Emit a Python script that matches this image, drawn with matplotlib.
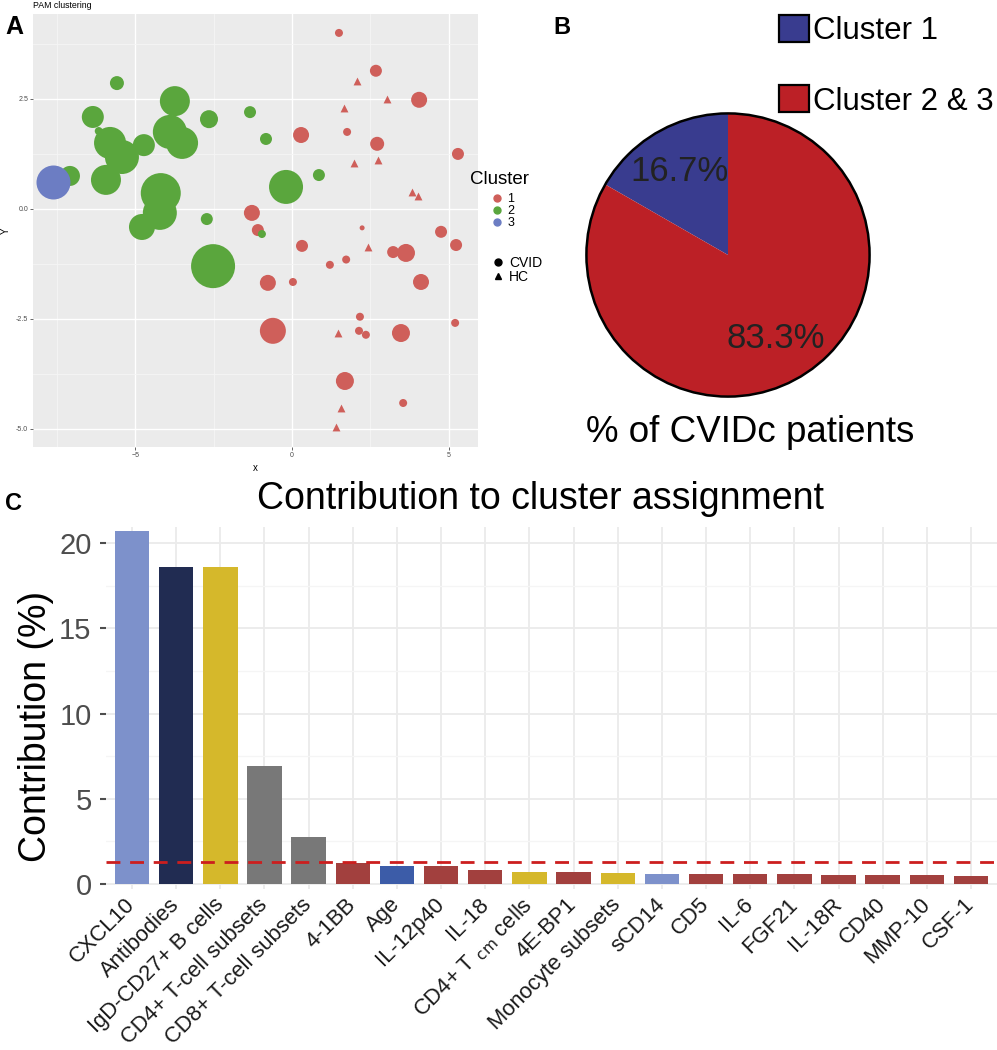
import numpy as np
import matplotlib.pyplot as plt
from matplotlib.lines import Line2D
from matplotlib.patches import Patch, Circle

plt.rcParams['font.family'] = ['Liberation Sans', 'DejaVu Sans']

# ---- panel A: PAM clustering (x, y, bubble size) ----
c1_x = [1.50, 2.68, 4.06, 0.29, 1.76, 2.72, 5.30, -1.28, -1.09, 0.32, 2.24, 4.76, 5.24, 3.23,
        3.64, 1.73, 1.21, -0.77, 0.03, 4.12, -0.61, 2.17, 2.14, 2.36, 3.48, 5.21, 1.69, 3.55]
c1_y = [4.00, 3.14, 2.48, 1.68, 1.75, 1.48, 1.25, -0.09, -0.48, -0.84, -0.43, -0.52, -0.82, -0.98,
        -1.00, -1.15, -1.27, -1.68, -1.66, -1.66, -2.77, -2.45, -2.77, -2.86, -2.82, -2.59, -3.91, -4.41]
c1_size = [4, 6, 8, 8, 4, 7, 6, 8, 6, 6, 2.5, 6, 6, 6, 9, 4, 4, 8, 4, 8, 13, 4, 4, 4, 9, 4, 9, 4]

hc_x = [2.08, 3.03, 1.66, 1.98, 2.75, 3.83, 4.03, 2.43, 1.47, 1.57, 1.41]
hc_y = [2.91, 2.50, 2.30, 1.04, 1.11, 0.39, 0.30, -0.86, -2.82, -4.52, -4.95]

c2_x = [-5.59, -3.74, -6.36, -2.65, -1.34, -6.17, -5.81, -5.43, -4.73, -3.90, -3.51, -0.83,
        -7.09, -5.94, -4.19, -4.22, -4.79, -0.19, 0.86, -2.72, -0.96, -2.52]
c2_y = [2.86, 2.45, 2.09, 2.04, 2.20, 1.77, 1.50, 1.18, 1.45, 1.75, 1.50, 1.59,
        0.75, 0.66, 0.36, -0.09, -0.41, 0.50, 0.77, -0.23, -0.57, -1.30]
c2_size = [7, 15, 11, 9, 6, 4, 16, 17, 11, 17, 16, 6, 10, 15, 20, 17, 13, 17, 6, 6, 4, 22]

c3_x = [-7.64]
c3_y = [0.61]
c3_size = [17]

# ---- panel B ----
pie_labels = ["Cluster 1", "Cluster 2 & 3"]
pie_values = [16.7, 83.3]

# ---- panel C ----
features = ["CXCL10", "Antibodies", "IgD-CD27+ B cells", "CD4+ T-cell subsets",
            "CD8+ T-cell subsets", "4-1BB", "Age", "IL-12p40", "IL-18",
            "CD4+ T $_{\\rm cm}$ cells", "4E-BP1", "Monocyte subsets", "sCD14", "CD5",
            "IL-6", "FGF21", "IL-18R", "CD40", "MMP-10", "CSF-1"]
contribution = [20.7, 18.6, 18.6, 6.9, 2.75, 1.25, 1.05, 1.05, 0.8, 0.72, 0.72, 0.62,
                0.6, 0.6, 0.58, 0.57, 0.55, 0.55, 0.52, 0.45]
feature_group = ["light", "navy", "gold", "grey", "grey", "red", "blue", "red", "red",
                 "gold", "red", "gold", "light", "red", "red", "red", "red", "red", "red", "red"]
cutoff = 1.27

group_colors = {"light": "#7D91CB", "navy": "#212C52", "gold": "#D5B82B",
                "grey": "#787878", "red": "#A2403E", "blue": "#3C5CA8"}

W, H = 997, 1050
fig = plt.figure(figsize=(W / 100, H / 100), dpi=100)


def box(l, t, r, b):
    return [l / W, 1 - b / H, (r - l) / W, (b - t) / H]


def px2s(r):
    return (2 * r * 0.72) ** 2


# ---------- A ----------
red, green, blue = "#CF5F5A", "#5AA63D", "#6C7DC3"
ax = fig.add_axes(box(33, 14, 478, 447))
ax.set_facecolor("#EBEBEB")
ax.scatter(c1_x, c1_y, s=[px2s(v) for v in c1_size], color=red, lw=0, zorder=3)
ax.scatter(hc_x, hc_y, s=32, marker="^", color=red, lw=0, zorder=3)
ax.scatter(c2_x, c2_y, s=[px2s(v) for v in c2_size], color=green, lw=0, zorder=3)
ax.scatter(c3_x, c3_y, s=[px2s(v) for v in c3_size], color=blue, lw=0, zorder=3)
ax.set_xlim(-8.27, 5.94)
ax.set_ylim(-5.41, 4.43)
ax.set_xticks([-5, 0, 5])
ax.set_yticks([-5, -2.5, 0, 2.5])
ax.set_yticklabels(["-5.0", "-2.5", "0.0", "2.5"])
ax.set_xticks([-7.5, -2.5, 2.5], minor=True)
ax.set_yticks([-3.75, -1.25, 1.25, 3.75], minor=True)
ax.grid(True, which="major", color="white", lw=1.0)
ax.grid(True, which="minor", color="#F5F5F5", lw=0.6)
ax.set_axisbelow(True)
for s in ax.spines.values():
    s.set_visible(False)
ax.tick_params(which="major", labelsize=5, colors="#4D4D4D", length=2, width=0.6, pad=1.5)
ax.tick_params(which="minor", length=0)
ax.set_xlabel("x", fontsize=7, labelpad=3)
ax.set_ylabel("Y", fontsize=7, labelpad=4)
fig.text(33 / W, 1 - 6 / H, "PAM clustering", fontsize=6.3, va="center", ha="left")
fig.text(5 / W, 1 - 27 / H, "A", fontsize=18, fontweight="bold", va="center")

# legend: cluster colour and group shape
fig.text(470 / W, 1 - 179 / H, "Cluster", fontsize=13.5, va="center", ha="left")
h_cl = [Line2D([], [], marker="o", ls="", color=c, markersize=5) for c in (red, green, blue)]
leg1 = ax.legend(h_cl, ["1", "2", "3"], loc="upper left",
                 bbox_to_anchor=(491 / W, 1 - 193 / H), bbox_transform=fig.transFigure,
                 frameon=False, fontsize=9, borderpad=0, borderaxespad=0,
                 handlelength=1.0, handletextpad=0.3, labelspacing=0.0)
ax.add_artist(leg1)
h_sh = [Line2D([], [], marker="o", ls="", color="black", markersize=5),
        Line2D([], [], marker="^", ls="", color="black", markersize=5)]
ax.legend(h_sh, ["CVID", "HC"], loc="upper left",
          bbox_to_anchor=(491 / W, 1 - 256 / H), bbox_transform=fig.transFigure,
          frameon=False, fontsize=10, borderpad=0, borderaxespad=0,
          handlelength=1.0, handletextpad=0.3, labelspacing=0.0)

# ---------- B ----------
axb = fig.add_axes(box(728 - 143, 255 - 143, 728 + 143, 255 + 143))
wedges, _, autotexts = axb.pie(pie_values, colors=["#393C8F", "#BC2026"], startangle=90,
                               counterclock=True, autopct="%.1f%%", pctdistance=0.68,
                               wedgeprops=dict(linewidth=0),
                               textprops=dict(fontsize=25, color="#222222"))
axb.add_patch(Circle((0, 0), 1, fill=False, ec="black", lw=1.8))
axb.set_xlim(-1.01, 1.01)
axb.set_ylim(-1.01, 1.01)
axb.axis("off")
fig.text(750 / W, 1 - 433 / H, "% of CVIDc patients", fontsize=26.5, ha="center", va="center")
fig.text(553 / W, 1 - 27 / H, "B", fontsize=17, fontweight="bold", va="center")
leg_h = [Patch(facecolor="#393C8F", edgecolor="black", lw=1.6),
         Patch(facecolor="#BC2026", edgecolor="black", lw=1.6)]
fig.legend(leg_h, pie_labels, loc="upper left", bbox_to_anchor=(779 / W, 1 - 15 / H),
           frameon=False, fontsize=22.5, borderpad=0, borderaxespad=0,
           handlelength=0.95, handleheight=0.95, handletextpad=0.15, labelspacing=1.25)

# ---------- C ----------
axc = fig.add_axes(box(105.5, 527, 997.5, 889))
xpos = np.arange(len(features))
axc.bar(xpos, contribution, width=0.78, color=[group_colors[g] for g in feature_group],
        zorder=3)
axc.axhline(cutoff, color="#CC1E1E", lw=2, ls=(0, (5, 3.5)), zorder=4)
axc.set_xlim(-0.6, len(features) - 0.4)
axc.set_ylim(-0.3, 20.95)
axc.set_yticks([0, 5, 10, 15, 20])
axc.set_yticks([2.5, 7.5, 12.5, 17.5], minor=True)
axc.set_xticks(xpos)
axc.set_xticklabels(features, rotation=45, ha="right", va="center", rotation_mode="anchor",
                    fontsize=15.8, color="#1A1A1A")
axc.tick_params(axis="x", length=0, pad=9)
axc.tick_params(axis="y", which="major", labelsize=21, colors="#4D4D4D", length=4, width=1.5,
                pad=6)
axc.tick_params(axis="y", which="minor", length=0)
axc.grid(True, which="major", color="#EBEBEB", lw=1.3)
axc.grid(True, which="minor", axis="y", color="#F5F5F5", lw=0.9)
axc.set_axisbelow(True)
for s in axc.spines.values():
    s.set_visible(False)
fig.text(540 / W, 1 - 499 / H, "Contribution to cluster assignment", fontsize=27,
         ha="center", va="center")
fig.text(36 / W, 1 - 726 / H, "Contribution (%)", fontsize=27, rotation=90,
         ha="center", va="center")
fig.text(5 / W, 1 - 503 / H, "C", fontsize=17, fontweight="bold", va="center")

fig.savefig("out.png", dpi=100)
